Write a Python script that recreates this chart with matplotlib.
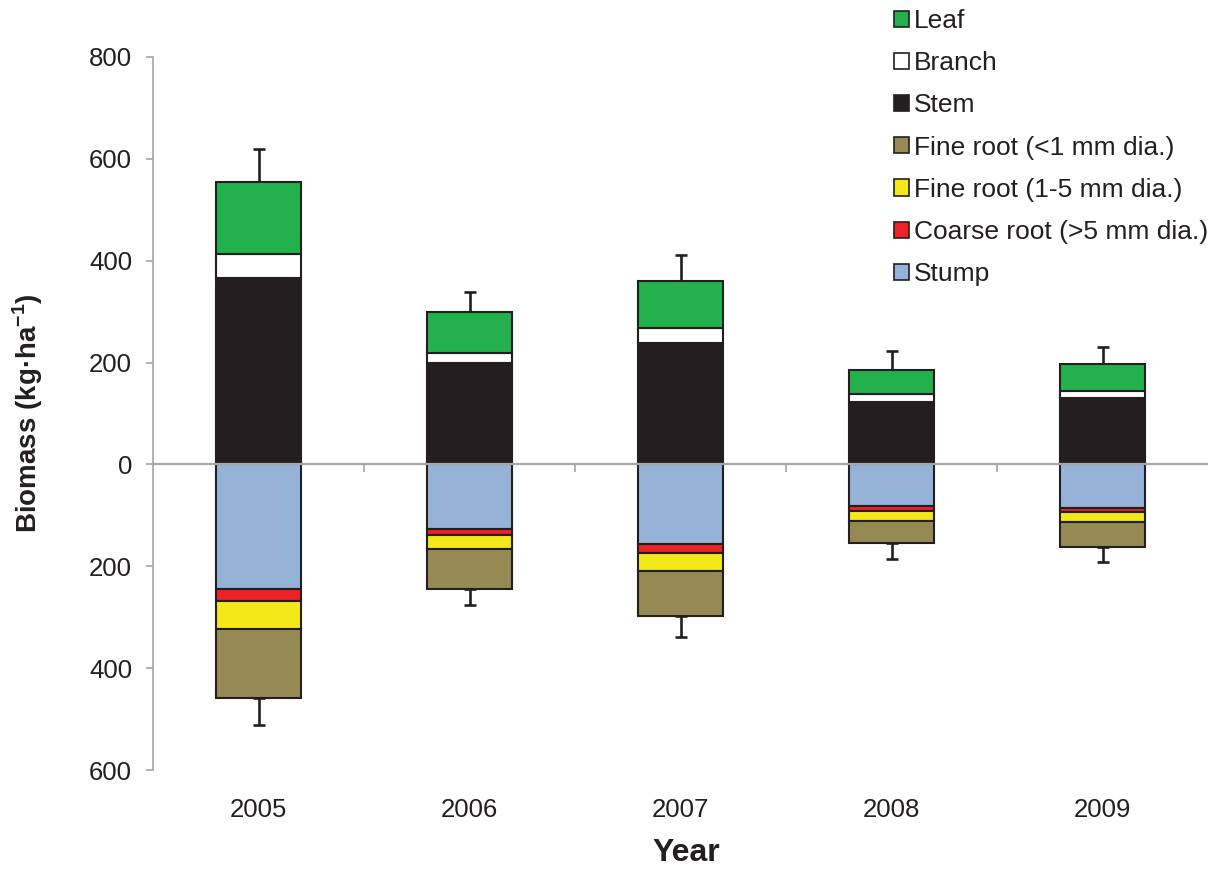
import matplotlib
matplotlib.use("Agg")
import matplotlib.pyplot as plt
import numpy as np
from matplotlib.patches import Patch
from matplotlib.ticker import FuncFormatter, MultipleLocator

plt.rcParams["font.family"] = ["Liberation Sans", "DejaVu Sans"]
plt.rcParams["mathtext.fontset"] = "custom"
plt.rcParams["mathtext.rm"] = "Liberation Sans"
plt.rcParams["mathtext.bf"] = "Liberation Sans:bold"

# Above-ground biomass (kg/ha)
years = ["2005", "2006", "2007", "2008", "2009"]
stem = [367, 199, 238, 122, 131]
branch = [47, 20, 29, 17, 14]
leaf = [141, 81, 93, 46, 52]
err_above = [64, 38, 51, 38, 34]

# Below-ground biomass (kg/ha), plotted downward
stump = [244, 127, 157, 81, 86]
coarse_root = [25, 11, 17, 11, 8]
fine_root_1_5 = [55, 29, 36, 19, 19]
fine_root_lt1 = [135, 78, 88, 44, 50]
err_below = [53, 31, 41, 31, 28]

labels = ["Leaf", "Branch", "Stem", "Fine root (<1 mm dia.)",
          "Fine root (1-5 mm dia.)", "Coarse root (>5 mm dia.)", "Stump"]
colors = {
    "Leaf": "#22B14C",
    "Branch": "#FFFFFF",
    "Stem": "#231F20",
    "Fine root (<1 mm dia.)": "#958A54",
    "Fine root (1-5 mm dia.)": "#F2E81A",
    "Coarse root (>5 mm dia.)": "#EC2227",
    "Stump": "#95B3D7",
}

EDGE = "#231F20"
GRID = "#A6A6A6"
TEXT = "#231F20"
LW = 1.5
W = 0.4

fig = plt.figure(figsize=(12.08, 8.69), dpi=100)
ax = fig.add_axes([153 / 1208, 1 - 770 / 869, 1 - 153 / 1208, (770 - 57) / 869])

x = np.arange(len(years))

# positive stack
above = [("Stem", stem), ("Branch", branch), ("Leaf", leaf)]
bottom = np.zeros(len(years))
for name, vals in above:
    vals = np.asarray(vals, float)
    ax.bar(x, vals, W, bottom=bottom, color=colors[name], edgecolor=EDGE,
           linewidth=LW, zorder=2)
    bottom += vals
top_above = bottom.copy()

# negative stack
below = [("Stump", stump), ("Coarse root (>5 mm dia.)", coarse_root),
         ("Fine root (1-5 mm dia.)", fine_root_1_5),
         ("Fine root (<1 mm dia.)", fine_root_lt1)]
bottom = np.zeros(len(years))
for name, vals in below:
    vals = -np.asarray(vals, float)
    ax.bar(x, vals, W, bottom=bottom, color=colors[name], edgecolor=EDGE,
           linewidth=LW, zorder=2)
    bottom += vals
bot_below = bottom.copy()

zeros = np.zeros(len(years))
ax.errorbar(x, top_above, yerr=[zeros, err_above], fmt="none", ecolor=EDGE,
            elinewidth=1.9, capsize=4.5, capthick=1.9, zorder=1)
ax.errorbar(x, bot_below, yerr=[err_below, zeros], fmt="none", ecolor=EDGE,
            elinewidth=1.9, capsize=4.5, capthick=1.9, zorder=1)

ax.set_xlim(-0.5, len(years) - 0.5)
ax.set_ylim(-600, 800)

# axes styling
for s in ["top", "right"]:
    ax.spines[s].set_visible(False)
ax.spines["left"].set_color(GRID)
ax.spines["left"].set_linewidth(1.2)
ax.spines["bottom"].set_position(("data", 0))
ax.spines["bottom"].set_color(GRID)
ax.spines["bottom"].set_linewidth(1.6)
ax.spines["bottom"].set_zorder(5)

ax.yaxis.set_major_locator(MultipleLocator(200))
ax.yaxis.set_major_formatter(FuncFormatter(lambda v, p: f"{abs(v):.0f}"))
ax.tick_params(axis="y", direction="out", length=5, width=1.2, color=GRID,
               labelsize=18.5, labelcolor=TEXT, pad=10)

ax.set_xticks(x[:-1] + 0.5)
ax.set_xticklabels([])
ax.tick_params(axis="x", direction="out", length=6, width=1.2, color=GRID)

sec = ax.secondary_xaxis(0)
sec.set_xticks(x, labels=years)
sec.tick_params(length=0, pad=20, labelsize=18.5, labelcolor=TEXT)
sec.spines["bottom"].set_visible(False)

ax.set_xlabel("Year", fontsize=23, fontweight="bold", color=TEXT, va="center")
ax.xaxis.set_label_coords((686 - 153) / 1055, (770 - 853) / 713)
ax.set_ylabel(r"Biomass (kg·ha$^{\mathbf{-1}}$)", fontsize=20,
              fontweight="bold", color=TEXT, va="center")
ax.yaxis.set_label_coords((28 - 153) / 1055, 0.5)

handles = [Patch(facecolor=colors[n], edgecolor=EDGE, linewidth=1.2)
           for n in labels]
leg = fig.legend(handles, labels, loc="upper left",
                 bbox_to_anchor=(894 / 1208, 1 - 9 / 869), frameon=False,
                 fontsize=19, handlelength=0.57, handleheight=0.57,
                 handletextpad=0.17, labelspacing=0.69, borderpad=0,
                 borderaxespad=0)
for t in leg.get_texts():
    t.set_color(TEXT)

fig.savefig("out.png", dpi=100)
